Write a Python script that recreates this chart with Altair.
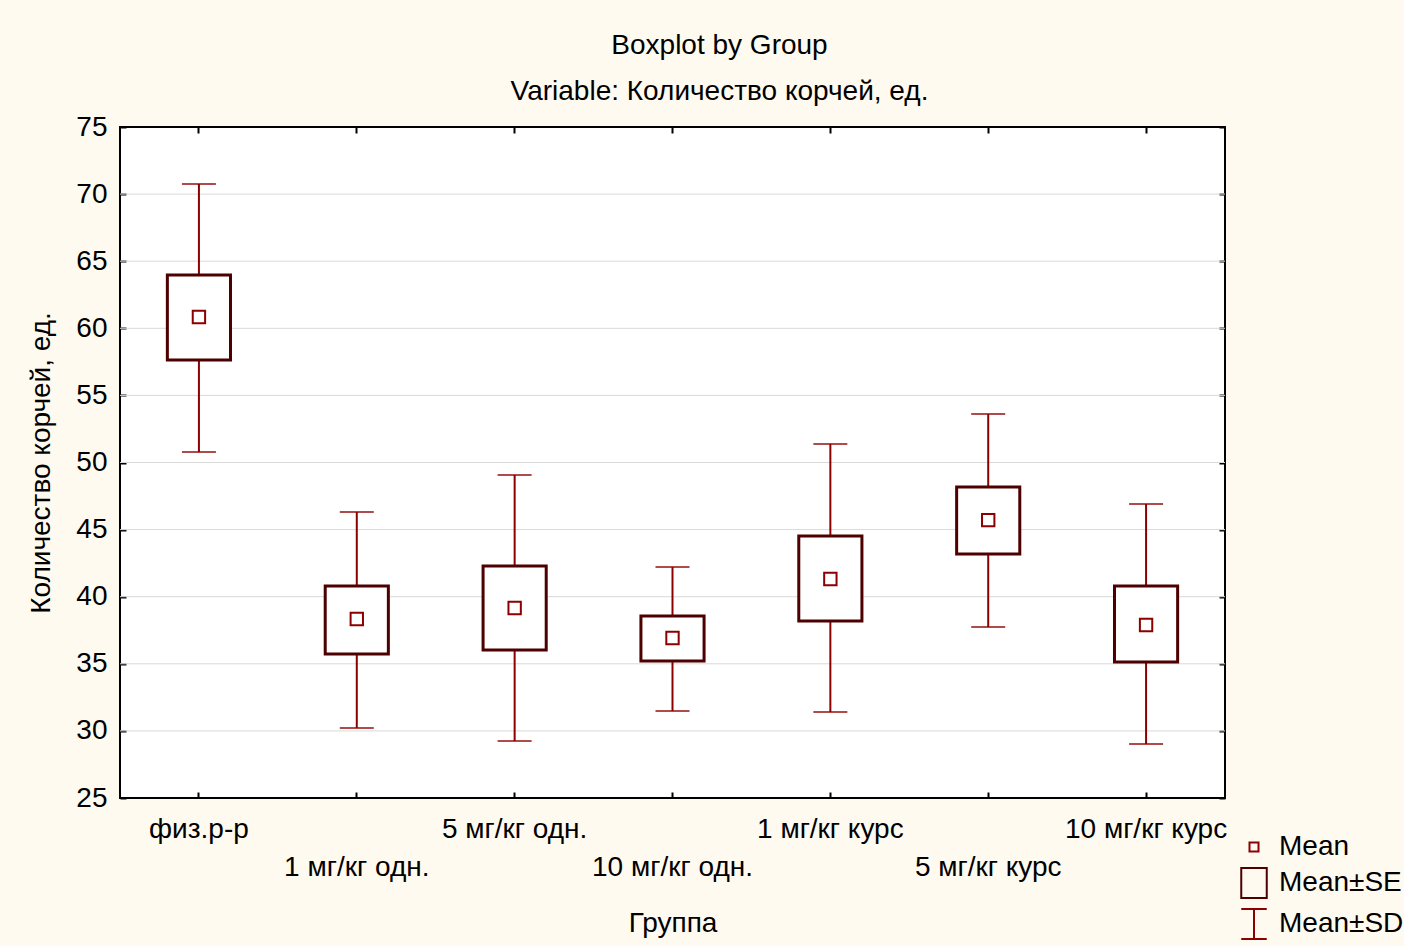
import altair as alt
import pandas as pd

groups = ["физ.р-р", "1 мг/кг одн.", "5 мг/кг одн.", "10 мг/кг одн.",
          "1 мг/кг курс", "5 мг/кг курс", "10 мг/кг курс"]
means = [60.84, 38.34, 39.16, 36.92, 41.32, 45.71, 37.89]
se_hi = [63.97, 40.80, 42.29, 38.56, 44.52, 48.17, 40.80]
se_lo = [57.64, 35.73, 36.03, 35.21, 38.19, 43.18, 35.13]
sd_hi = [70.75, 46.31, 49.07, 42.21, 51.38, 53.61, 46.91]
sd_lo = [50.78, 30.22, 29.25, 31.48, 31.41, 37.74, 29.02]
y_ticks = [25, 30, 35, 40, 45, 50, 55, 60, 65, 70, 75]
grid_vals = [30, 35, 40, 45, 50, 55, 60, 65, 70]
legend_kinds = ["Mean", "Mean±SE", "Mean±SD"]

FONT = "Liberation Sans"
FS = 28
RED = "#8B0000"
DARK = "#4D0000"

df = pd.DataFrame({
    "group": groups, "mean": means, "se_lo": se_lo, "se_hi": se_hi,
    "sd_lo": sd_lo, "sd_hi": sd_hi, "kind": ["Mean"] * len(groups),
})
grid_df = pd.DataFrame({"g": grid_vals})

xscale = alt.Scale(domain=groups, paddingInner=0, paddingOuter=0)
yscale = alt.Scale(domain=[25, 75], nice=False, zero=False)

arr = "[" + ",".join("'" + g + "'" for g in groups) + "]"
label_expr = f"indexof({arr}, datum.value) % 2 == 1 ? ['', datum.label] : datum.label"

bottom_axis = alt.Axis(
    orient="bottom", offset=-6, tickSize=6, tickWidth=2, tickColor="black",
    domain=False, grid=False, labelExpr=label_expr, labelLineHeight=38,
    labelPadding=17, labelOverlap=False, labelLimit=400, labelAngle=0,
    labelFont=FONT, labelFontSize=FS, labelColor="black",
    titleFont=FONT, titleFontSize=FS, titleFontWeight="normal",
    titleColor="black", titlePadding=28,
)
left_axis = alt.Axis(
    orient="left", offset=-6, tickSize=6, tickWidth=2, tickColor="black",
    domain=False, grid=False, values=y_ticks, labelPadding=13,
    labelFont=FONT, labelFontSize=FS, labelColor="black",
    titleFont=FONT, titleFontSize=FS, titleFontWeight="normal",
    titleColor="black", titlePadding=20,
)
top_axis = alt.Axis(
    orient="top", offset=-6, tickSize=6, tickWidth=2, tickColor="black",
    domain=False, grid=False, labels=False, title=None,
)
right_axis = alt.Axis(
    orient="right", offset=-6, tickSize=6, tickWidth=2, tickColor="black",
    domain=False, grid=False, labels=False, title=None, values=y_ticks,
)

grid = alt.Chart(grid_df).mark_rule(color="#D9D9D9", strokeWidth=1).encode(
    y=alt.Y("g:Q", scale=yscale, axis=None)
)

sd_rule = alt.Chart(df).mark_rule(color=RED, strokeWidth=2).encode(
    x=alt.X("group:N", sort=groups, scale=xscale, axis=bottom_axis, title="Группа"),
    y=alt.Y("sd_lo:Q", scale=yscale, axis=left_axis, title="Количество корчей, ед."),
    y2="sd_hi:Q",
)

caps = alt.Chart(df).transform_fold(["sd_lo", "sd_hi"], as_=["which", "v"]).mark_tick(
    color=RED, size=34, thickness=2
).encode(
    x=alt.X("group:N", sort=groups, scale=xscale, axis=top_axis),
    y=alt.Y("v:Q", scale=yscale, axis=right_axis),
)

box = alt.Chart(df).mark_bar(
    fill="white", stroke=DARK, strokeWidth=3, width=alt.RelativeBandSize(0.4)
).encode(
    x=alt.X("group:N", sort=groups, scale=xscale, axis=None),
    y=alt.Y("se_lo:Q", scale=yscale, axis=None),
    y2="se_hi:Q",
)

paths = [
    "M-0.3,-0.3H0.3V0.3H-0.3Z",
    "M-0.85,-1H0.85V1H-0.85Z",
    "M-0.85,-1H0.85M0,-1V1M-0.85,1H0.85",
]
leg = alt.Legend(
    title=None, orient="none", legendX=1118, legendY=704,
    symbolSize=900, symbolStrokeWidth=2, labelFont=FONT, labelFontSize=FS,
    labelColor="black", labelOffset=9, rowPadding=3, padding=0,
    symbolFillColor="transparent",
)
mean_pt = alt.Chart(df).mark_point(filled=False, strokeWidth=2, size=1700, opacity=1).encode(
    x=alt.X("group:N", sort=groups, scale=xscale, axis=None),
    y=alt.Y("mean:Q", scale=yscale, axis=None),
    shape=alt.Shape("kind:N", scale=alt.Scale(domain=legend_kinds, range=paths), legend=leg),
    stroke=alt.Stroke("kind:N", scale=alt.Scale(domain=legend_kinds, range=[RED, DARK, RED]), legend=leg),
)

chart = alt.layer(grid, sd_rule, caps, box, mean_pt).resolve_axis(
    x="independent", y="independent"
).properties(
    width=1105, height=671,
    title=alt.TitleParams(
        text="Boxplot by Group",
        subtitle="Variable: Количество корчей, ед.",
        font=FONT, fontSize=FS, fontWeight="normal", color="black",
        subtitleFont=FONT, subtitleFontSize=FS, subtitleColor="black",
        subtitlePadding=18, anchor="middle", frame="group", dx=47, offset=7,
    ),
    autosize=alt.AutoSizeParams(type="none"),
    padding={"left": 120, "top": 127, "right": 179, "bottom": 148},
    background="#FFFAF0",
).configure_view(
    fill="white", stroke="black", strokeWidth=2
)

chart.save("out.html", embed_options={"renderer": "svg", "actions": False})
